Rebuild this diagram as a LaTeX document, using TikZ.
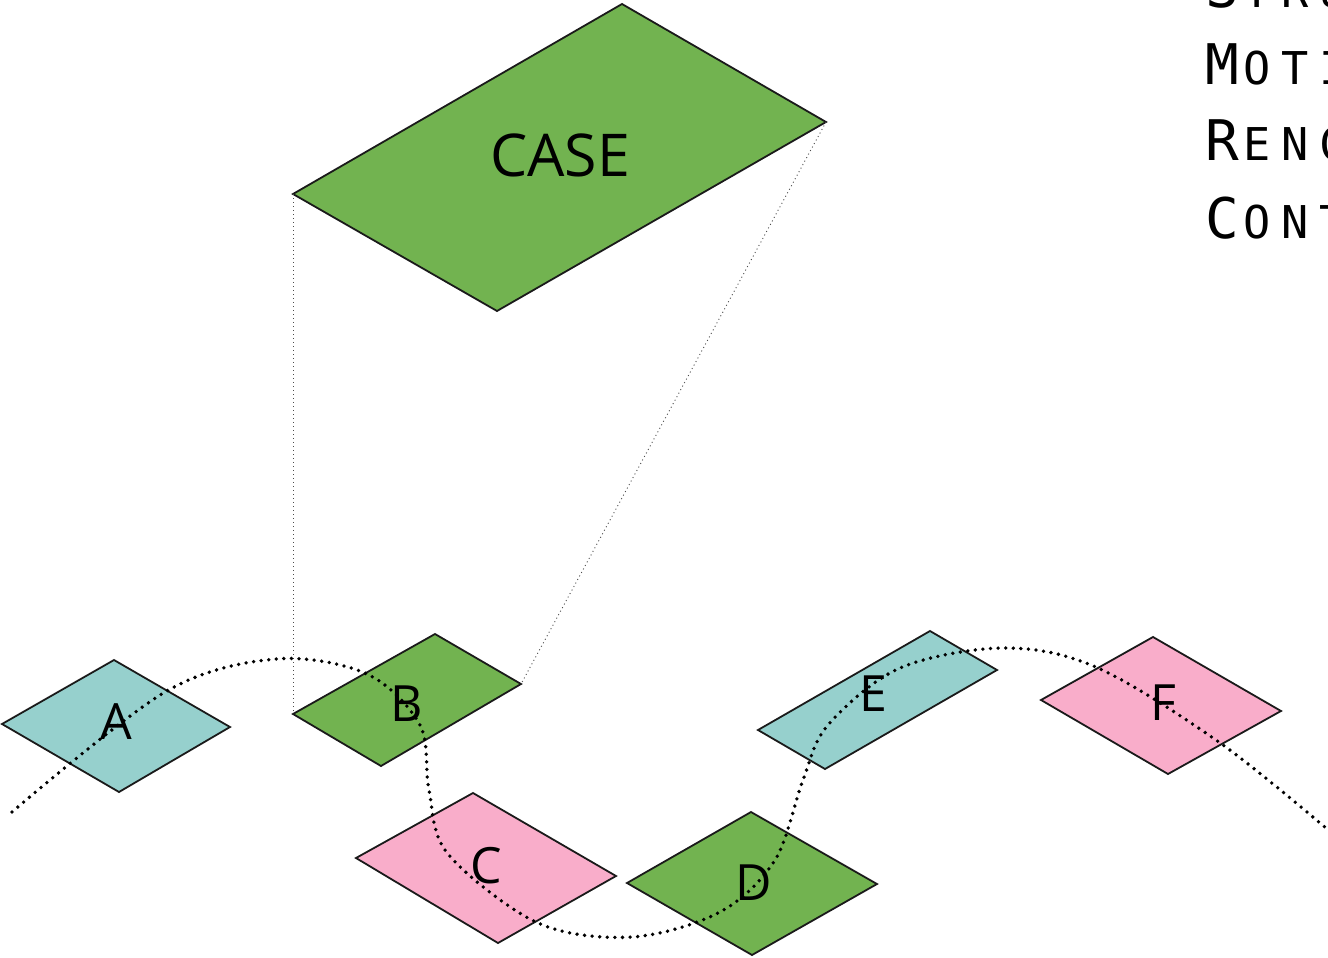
\documentclass[tikz,border=0pt]{standalone}
\usepackage{fontspec}
\setmainfont{Open Sans}
\newfontfamily\monofam{DejaVu Sans Mono}
\newcommand\capL[1]{\makebox[19pt][l]{\monofam\fontsize{28}{28}\selectfont #1}}
\newcommand\scL[1]{\makebox[19pt][l]{\monofam\fontsize{22.6}{22.6}\selectfont #1}}
\definecolor{tgreen}{HTML}{72B350}
\definecolor{tteal}{HTML}{96D0CD}
\definecolor{tpink}{HTML}{F9ADCA}
\definecolor{tedge}{HTML}{1A1A1A}
\tikzset{
  tile/.style={draw=tedge, line width=0.9pt, line join=miter},
  lbl/.style={inner sep=0pt, font=\fontsize{25}{25}\selectfont},
  guide/.style={draw=black!70, line width=0.45pt, dash pattern=on 0.5pt off 1.5pt},
  path dots/.style={draw=black, line width=1.9pt, line cap=round, dash pattern=on 0pt off 3.8pt},
  sidetext/.style={anchor=base west, inner sep=0pt}
}
\begin{document}
\begin{tikzpicture}[x=0.5pt, y=-0.5pt]
\useasboundingbox (0,0) rectangle (1328,958);
\clip (0,0) rectangle (1328,958);

% CASE
\coordinate (caseT) at (622,4);
\coordinate (caseR) at (826,122);
\coordinate (caseB) at (497,311);
\coordinate (caseL) at (293,194);
\draw[tile, fill=tgreen] (caseT) -- (caseR) -- (caseB) -- (caseL) -- cycle;
\node[inner sep=0pt, font=\fontsize{29.5}{29.5}\selectfont] (caselbl) at (560,155) {CASE};

% B
\coordinate (bL) at (293,714);
\coordinate (bT) at (435,634);
\coordinate (bR) at (521,684);
\coordinate (bB) at (381,766);
\draw[tile, fill=tgreen] (bL) -- (bT) -- (bR) -- (bB) -- cycle;

% guides
\draw[guide] (caseL) -- (bL);
\draw[guide] (caseR) -- (bR);

% A
\draw[tile, fill=tteal] (2,724) -- (114,660) -- (230,727) -- (119,792) -- cycle;
% C
\draw[tile, fill=tpink] (356,858) -- (473,793) -- (616,876) -- (498,943) -- cycle;
% D
\draw[tile, fill=tgreen] (627,883) -- (751,812) -- (877,884) -- (752,955) -- cycle;
% E
\draw[tile, fill=tteal] (758,730) -- (930,631) -- (997,670) -- (825,769) -- cycle;
% F
\draw[tile, fill=tpink] (1041,700) -- (1153,637) -- (1281,711) -- (1168,774) -- cycle;

% labels
\node[lbl] (la) at (116,722) {A};
\node[lbl] (lb) at (407,704) {B};
\node[lbl] (lc) at (486,866) {C};
\node[lbl] (ld) at (754,883) {D};
\node[lbl] (le) at (873,694) {E};
\node[lbl] (lf) at (1163,703) {F};

% dotted path
\draw[path dots] plot[smooth, tension=0.55] coordinates {
 (12,812) (165,692) (276,659) (367,674) (420,725) (429,790) (448,854)
 (538,923) (632,937) (720,912) (775,860) (803,780) (828,725) (900,668)
 (1005,648) (1098,668) (1223,745) (1340,840)};

% side text
\node[sidetext] (t1) at (1205,7) {\capL{S}\scL{T}\scL{R}\scL{U}};
\node[sidetext] (t2) at (1205,84) {\capL{M}\scL{O}\scL{T}\scL{I}};
\node[sidetext] (t3) at (1205,160) {\capL{R}\scL{E}\scL{N}\scL{C}};
\node[sidetext] (t4) at (1205,238) {\capL{C}\scL{O}\scL{N}\scL{T}};
\end{tikzpicture}
\end{document}
